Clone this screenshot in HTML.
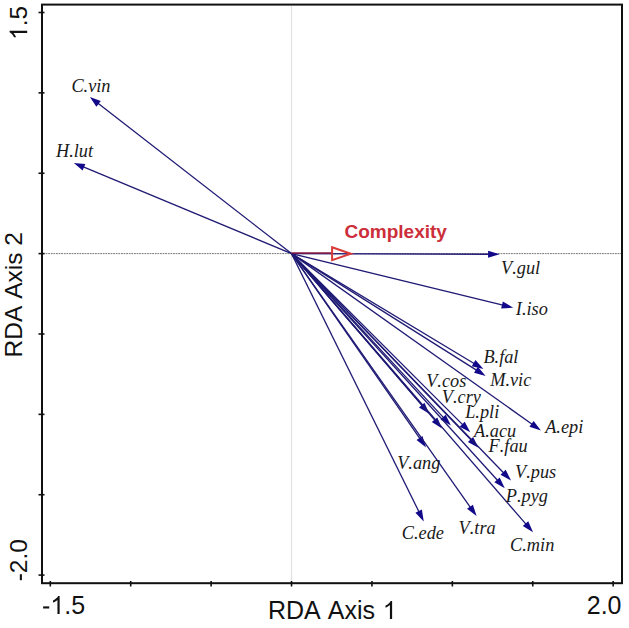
<!DOCTYPE html>
<html><head><meta charset="utf-8"><style>
html,body{margin:0;padding:0;background:#fff;}
svg{display:block;}
.sp{font-kerning:none;font-family:"Liberation Serif",serif;font-style:italic;font-size:18.3px;fill:#1a1a1a;}
.cx{font-kerning:none;font-family:"Liberation Sans",sans-serif;font-weight:bold;font-size:19px;fill:#cc2e3a;}
.ax{font-kerning:none;font-family:"Liberation Sans",sans-serif;font-size:25px;fill:#111;}
</style></head><body>
<svg width="629" height="628" viewBox="0 0 629 628">
<line x1="43" y1="253.6" x2="621" y2="253.6" stroke="#767676" stroke-width="1" stroke-dasharray="1.8 0.8"/>
<line x1="291.5" y1="6" x2="291.5" y2="582" stroke="#e2e2e2" stroke-width="1.2"/>
<line x1="291.5" y1="253.6" x2="97.01" y2="102.61" stroke="#1f1a74" stroke-width="1.3"/><polygon points="89.91,97.09 100.80,101.00 96.39,106.68" fill="#12098a"/>
<line x1="291.5" y1="253.6" x2="82.15" y2="166.47" stroke="#1f1a74" stroke-width="1.3"/><polygon points="73.84,163.01 85.38,163.91 82.61,170.56" fill="#12098a"/>
<line x1="291.5" y1="253.6" x2="490.10" y2="254.27" stroke="#1f1a74" stroke-width="1.3"/><polygon points="499.60,254.30 488.09,257.86 488.11,250.66" fill="#12098a"/>
<line x1="291.5" y1="253.6" x2="503.94" y2="305.48" stroke="#1f1a74" stroke-width="1.3"/><polygon points="513.17,307.74 501.15,308.51 502.85,301.51" fill="#12098a"/>
<line x1="291.5" y1="253.6" x2="475.32" y2="364.22" stroke="#1f1a74" stroke-width="1.3"/><polygon points="483.46,369.12 471.75,366.27 475.46,360.10" fill="#12098a"/>
<line x1="291.5" y1="253.6" x2="477.61" y2="370.87" stroke="#1f1a74" stroke-width="1.3"/><polygon points="485.65,375.93 474.00,372.85 477.84,366.76" fill="#12098a"/>
<line x1="291.5" y1="253.6" x2="533.17" y2="424.98" stroke="#1f1a74" stroke-width="1.3"/><polygon points="540.92,430.48 529.45,426.76 533.62,420.89" fill="#12098a"/>
<line x1="291.5" y1="253.6" x2="423.06" y2="406.56" stroke="#1f1a74" stroke-width="1.3"/><polygon points="429.25,413.76 419.02,407.39 424.48,402.69" fill="#12098a"/>
<line x1="291.5" y1="253.6" x2="435.85" y2="421.26" stroke="#1f1a74" stroke-width="1.3"/><polygon points="442.05,428.46 431.82,422.09 437.28,417.39" fill="#12098a"/>
<line x1="291.5" y1="253.6" x2="444.42" y2="418.57" stroke="#1f1a74" stroke-width="1.3"/><polygon points="450.88,425.53 440.42,419.55 445.70,414.65" fill="#12098a"/>
<line x1="291.5" y1="253.6" x2="463.59" y2="425.59" stroke="#1f1a74" stroke-width="1.3"/><polygon points="470.31,432.31 459.63,426.72 464.72,421.63" fill="#12098a"/>
<line x1="291.5" y1="253.6" x2="471.90" y2="440.88" stroke="#1f1a74" stroke-width="1.3"/><polygon points="478.49,447.72 467.92,441.94 473.11,436.94" fill="#12098a"/>
<line x1="291.5" y1="253.6" x2="504.49" y2="473.79" stroke="#1f1a74" stroke-width="1.3"/><polygon points="511.10,480.62 500.51,474.86 505.69,469.85" fill="#12098a"/>
<line x1="291.5" y1="253.6" x2="498.38" y2="481.31" stroke="#1f1a74" stroke-width="1.3"/><polygon points="504.77,488.34 494.37,482.25 499.70,477.41" fill="#12098a"/>
<line x1="291.5" y1="253.6" x2="420.65" y2="439.62" stroke="#1f1a74" stroke-width="1.3"/><polygon points="426.07,447.42 416.55,440.03 422.47,435.92" fill="#12098a"/>
<line x1="291.5" y1="253.6" x2="419.54" y2="512.98" stroke="#1f1a74" stroke-width="1.3"/><polygon points="423.74,521.50 415.42,512.78 421.88,509.59" fill="#12098a"/>
<line x1="291.5" y1="253.6" x2="471.10" y2="508.35" stroke="#1f1a74" stroke-width="1.3"/><polygon points="476.58,516.12 467.01,508.79 472.89,504.64" fill="#12098a"/>
<line x1="291.5" y1="253.6" x2="526.83" y2="525.18" stroke="#1f1a74" stroke-width="1.3"/><polygon points="533.05,532.36 522.80,526.02 528.24,521.31" fill="#12098a"/>
<line x1="291.5" y1="253.1" x2="332" y2="253.1" stroke="#8a1840" stroke-width="1.5"/>
<polygon points="332.1,247.3 350.9,253.7 332.1,260.2" fill="none" stroke="#d93a3a" stroke-width="2" stroke-linejoin="miter"/>
<rect x="42" y="4.6" width="580" height="578.6" fill="none" stroke="#111" stroke-width="2"/>
<line x1="50.30" y1="581" x2="50.30" y2="586.5" stroke="#111" stroke-width="1.6"/>
<line x1="38.5" y1="12.50" x2="44.5" y2="12.50" stroke="#111" stroke-width="1.6"/>
<line x1="130.71" y1="581" x2="130.71" y2="586.5" stroke="#111" stroke-width="1.6"/>
<line x1="38.5" y1="92.87" x2="44.5" y2="92.87" stroke="#111" stroke-width="1.6"/>
<line x1="211.12" y1="581" x2="211.12" y2="586.5" stroke="#111" stroke-width="1.6"/>
<line x1="38.5" y1="173.24" x2="44.5" y2="173.24" stroke="#111" stroke-width="1.6"/>
<line x1="291.53" y1="581" x2="291.53" y2="586.5" stroke="#111" stroke-width="1.6"/>
<line x1="38.5" y1="253.61" x2="44.5" y2="253.61" stroke="#111" stroke-width="1.6"/>
<line x1="371.94" y1="581" x2="371.94" y2="586.5" stroke="#111" stroke-width="1.6"/>
<line x1="38.5" y1="333.98" x2="44.5" y2="333.98" stroke="#111" stroke-width="1.6"/>
<line x1="452.35" y1="581" x2="452.35" y2="586.5" stroke="#111" stroke-width="1.6"/>
<line x1="38.5" y1="414.35" x2="44.5" y2="414.35" stroke="#111" stroke-width="1.6"/>
<line x1="532.76" y1="581" x2="532.76" y2="586.5" stroke="#111" stroke-width="1.6"/>
<line x1="38.5" y1="494.72" x2="44.5" y2="494.72" stroke="#111" stroke-width="1.6"/>
<line x1="613.17" y1="581" x2="613.17" y2="586.5" stroke="#111" stroke-width="1.6"/>
<line x1="38.5" y1="575.09" x2="44.5" y2="575.09" stroke="#111" stroke-width="1.6"/>
<text x="71.4" y="92.4" class="sp">C.vin</text>
<text x="56.0" y="157.4" class="sp">H.lut</text>
<text x="501.0" y="274.1" class="sp">V.gul</text>
<text x="515.8" y="314.8" class="sp">I.iso</text>
<text x="483.4" y="362.8" class="sp">B.fal</text>
<text x="490.2" y="386.2" class="sp">M.vic</text>
<text x="545.2" y="432.9" class="sp">A.epi</text>
<text x="426.2" y="387.2" class="sp">V.cos</text>
<text x="441.8" y="402.6" class="sp">V.cry</text>
<text x="465.2" y="418.2" class="sp">L.pli</text>
<text x="474.0" y="436.6" class="sp">A.acu</text>
<text x="488.6" y="452.2" class="sp">F.fau</text>
<text x="515.0" y="478.2" class="sp">V.pus</text>
<text x="505.8" y="501.8" class="sp">P.pyg</text>
<text x="397.2" y="469.4" class="sp">V.ang</text>
<text x="401.8" y="539.3" class="sp">C.ede</text>
<text x="458.6" y="534.4" class="sp">V.tra</text>
<text x="510.1" y="550.8" class="sp">C.min</text>
<text x="344.5" y="238" class="cx">Complexity</text>
<text x="268" y="619" class="ax">RDA Axis </text>
<path d="M763,0 L583,0 L583,1147 Q518,1085 412,1023 Q306,961 222,929 L222,1103 Q373,1174 486,1275 Q599,1376 646,1472 L763,1472 Z" transform="translate(382.80,619.00) scale(0.012207,-0.012207)" fill="#111"/>
<rect x="43.11" y="606.38" width="6.10" height="2.12" fill="#111"/>
<path d="M763,0 L583,0 L583,1147 Q518,1085 412,1023 Q306,961 222,929 L222,1103 Q373,1174 486,1275 Q599,1376 646,1472 L763,1472 Z" transform="translate(50.33,613.90) scale(0.012207,-0.012207)" fill="#111"/>
<text x="64.23" y="613.9" class="ax">.5</text>
<text x="621.5" y="614" class="ax" text-anchor="end">2.0</text>
<text transform="translate(22,357.4) rotate(-90)" class="ax" style="font-size:24.5px">RDA Axis 2</text>
<g transform="translate(27.2,39.9) rotate(-90)"><path d="M763,0 L583,0 L583,1147 Q518,1085 412,1023 Q306,961 222,929 L222,1103 Q373,1174 486,1275 Q599,1376 646,1472 L763,1472 Z" transform="translate(0.00,0.00) scale(0.011963,-0.011963)" fill="#111"/><text x="13.62" y="0" class="ax" style="font-size:24.5px">.5</text></g>
<g transform="translate(27.2,581.3) rotate(-90)"><rect x="1.09" y="-7.37" width="5.98" height="2.08" fill="#111"/><text x="8.16" y="0" class="ax" style="font-size:24.5px">2.0</text></g>
</svg>
</body></html>
